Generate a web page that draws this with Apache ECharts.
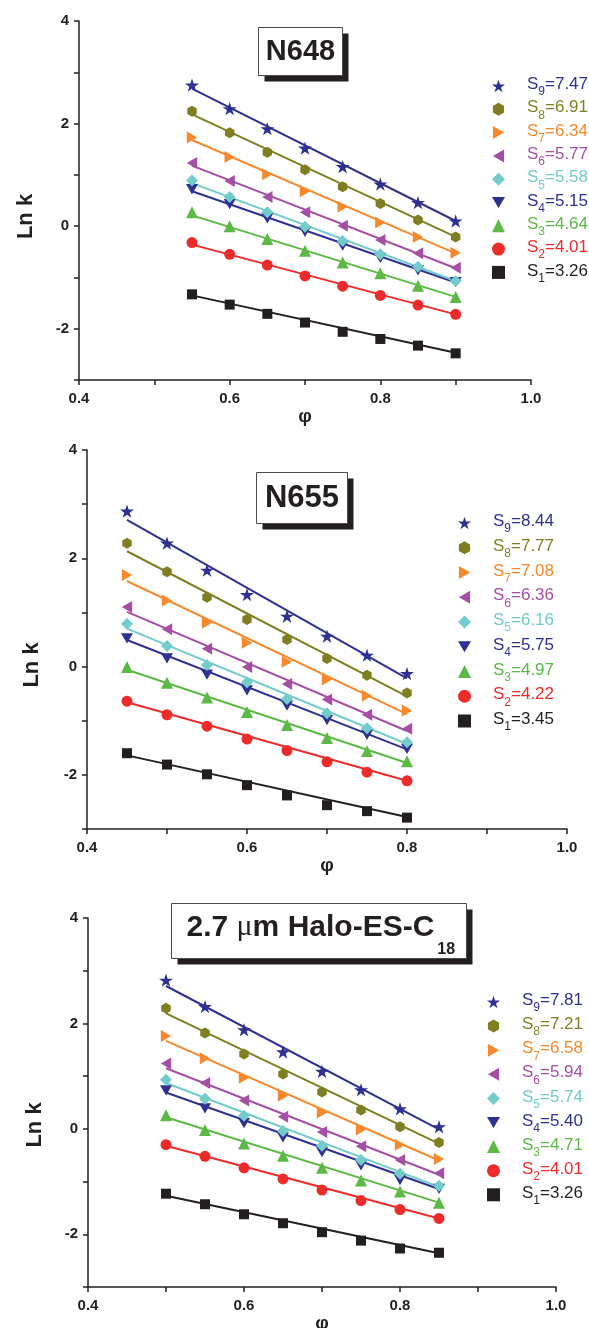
<!DOCTYPE html>
<html><head><meta charset="utf-8">
<script src="https://cdn.jsdelivr.net/npm/echarts@6/dist/echarts.min.js"></script>
<style>html,body{margin:0;padding:0;background:#fff}#c{width:589px;height:1328px}</style>
</head><body><div id="c"></div>
<script>
// ---------------- DATA ----------------
const seriesKeys = ['S1','S2','S3','S4','S5','S6','S7','S8','S9'];
const subscripts = ['1','2','3','4','5','6','7','8','9'];

// Panel 1 : N648
const titleN648 = 'N648';
const phiN648 = [0.55,0.60,0.65,0.70,0.75,0.80,0.85,0.90];
const sValuesN648 = ['3.26','4.01','4.64','5.15','5.58','5.77','6.34','6.91','7.47'];
const lnkN648 = [
  [-1.33,-1.53,-1.71,-1.88,-2.06,-2.20,-2.33,-2.48],
  [-0.32,-0.55,-0.76,-0.97,-1.17,-1.35,-1.54,-1.72],
  [ 0.27, 0.00,-0.25,-0.48,-0.71,-0.92,-1.16,-1.38],
  [ 0.72, 0.43, 0.15,-0.11,-0.38,-0.62,-0.86,-1.09],
  [ 0.89, 0.57, 0.27,-0.01,-0.29,-0.55,-0.79,-1.07],
  [ 1.23, 0.88, 0.57, 0.27, 0.01,-0.27,-0.53,-0.81],
  [ 1.73, 1.35, 1.01, 0.68, 0.38, 0.07,-0.21,-0.52],
  [ 2.24, 1.82, 1.44, 1.10, 0.77, 0.44, 0.12,-0.21],
  [ 2.75, 2.29, 1.90, 1.52, 1.16, 0.82, 0.46, 0.10]
];
const fitN648 = [[-1.35,-2.47],[-0.36,-1.72],[0.21,-1.38],[0.68,-1.10],[0.84,-1.07],[1.18,-0.82],[1.68,-0.53],[2.18,-0.21],[2.68,0.10]];

// Panel 2 : N655
const titleN655 = 'N655';
const phiN655 = [0.45,0.50,0.55,0.60,0.65,0.70,0.75,0.80];
const sValuesN655 = ['3.45','4.22','4.97','5.75','6.16','6.36','7.08','7.77','8.44'];
const lnkN655 = [
  [-1.60,-1.81,-1.99,-2.19,-2.38,-2.56,-2.67,-2.79],
  [-0.64,-0.89,-1.10,-1.34,-1.55,-1.76,-1.95,-2.11],
  [-0.01,-0.30,-0.57,-0.84,-1.08,-1.32,-1.56,-1.75],
  [ 0.52, 0.15,-0.15,-0.44,-0.72,-0.99,-1.26,-1.52],
  [ 0.79, 0.38, 0.03,-0.29,-0.60,-0.86,-1.14,-1.40],
  [ 1.10, 0.69, 0.33,-0.01,-0.32,-0.61,-0.89,-1.15],
  [ 1.69, 1.22, 0.81, 0.44, 0.09,-0.24,-0.54,-0.81],
  [ 2.28, 1.75, 1.28, 0.87, 0.50, 0.15,-0.16,-0.49],
  [ 2.87, 2.28, 1.78, 1.33, 0.93, 0.56, 0.21,-0.13]
];
const fitN655 = [[-1.64,-2.78],[-0.66,-2.11],[-0.06,-1.78],[0.49,-1.53],[0.70,-1.43],[1.01,-1.19],[1.58,-0.88],[2.13,-0.55],[2.71,-0.22]];

// Panel 3 : 2.7 µm Halo-ES-C18
const phiHalo = [0.50,0.55,0.60,0.65,0.70,0.75,0.80,0.85];
const sValuesHalo = ['3.26','4.01','4.71','5.40','5.74','5.94','6.58','7.21','7.81'];
const lnkHalo = [
  [-1.23,-1.43,-1.62,-1.79,-1.96,-2.12,-2.27,-2.35],
  [-0.30,-0.52,-0.74,-0.95,-1.16,-1.36,-1.53,-1.70],
  [ 0.26,-0.02,-0.28,-0.51,-0.74,-0.98,-1.19,-1.40],
  [ 0.73, 0.39, 0.11,-0.16,-0.44,-0.69,-0.97,-1.14],
  [ 0.93, 0.57, 0.25,-0.04,-0.32,-0.59,-0.85,-1.08],
  [ 1.24, 0.87, 0.54, 0.23,-0.06,-0.33,-0.59,-0.84],
  [ 1.76, 1.34, 0.97, 0.63, 0.31,-0.01,-0.30,-0.57],
  [ 2.29, 1.82, 1.42, 1.04, 0.70, 0.36, 0.04,-0.26],
  [ 2.82, 2.32, 1.88, 1.46, 1.09, 0.74, 0.38, 0.04]
];
const fitHalo = [[-1.27,-2.36],[-0.32,-1.70],[0.22,-1.40],[0.69,-1.14],[0.87,-1.10],[1.15,-0.87],[1.67,-0.60],[2.19,-0.28],[2.71,-0.01]];

// axis ranges / ticks
const xMin = 0.4, xMax = 1.0, xStep = 0.1;
const yMin = -3, yMax = 4, yStep = 1;

// ---------------- STYLE ----------------
const FONT = 'Arial, "Liberation Sans", Helvetica, sans-serif';
const INK = '#231F20';
const colors = ['#231F20','#EE2B2B','#5CB946','#2E3192','#73CBCB','#A54FA4','#F7892C','#7F7F22','#2E3192'];
const starPath = 'path://M50 0 L61.23 34.55 L97.55 34.55 L68.17 55.9 L79.39 90.45 L50 69.1 L20.61 90.45 L31.83 55.9 L2.45 34.55 L38.77 34.55 Z';
const symbols = ['rect','circle','triangle','path://M0 0 L100 0 L50 86 Z','path://M50 0 L100 50 L50 100 L0 50 Z',
  'path://M100 0 L14 50 L100 100 Z','path://M0 0 L86 50 L0 100 Z','path://M50 0 L93 25 L93 75 L50 100 L7 75 L7 25 Z', starPath];
const symSizes = [10,11,12,12,12,12,12,11,14];

const panels = [
  {id:'N648', phi:phiN648, lnk:lnkN648, fit:fitN648, sv:sValuesN648,
   grid:{left:79, top:21, width:452, height:359},
   legend:{left:492, top:76, itemGap:1.3},
   yNameGap:42, yNamePad:32, xNameGap:18},
  {id:'N655', phi:phiN655, lnk:lnkN655, fit:fitN655, sv:sValuesN655,
   grid:{left:87, top:450, width:480, height:379},
   legend:{left:458, top:513, itemGap:2.75},
   yNameGap:44, yNamePad:51, xNameGap:24},
  {id:'Halo', phi:phiHalo, lnk:lnkHalo, fit:fitHalo, sv:sValuesHalo,
   grid:{left:88, top:918, width:468, height:369},
   legend:{left:487, top:992, itemGap:2.1},
   yNameGap:42, yNamePad:45, xNameGap:20}
];

// rich styles for legend text with subscripts
const legendRich = {};
for (let i = 0; i < 9; i++) {
  legendRich['f'+i] = {color:colors[i], fontSize:17, fontFamily:FONT, lineHeight:20, verticalAlign:'top', padding:[0,0,0,17]};
  legendRich['m'+i] = {color:colors[i], fontSize:17, fontFamily:FONT, lineHeight:20, verticalAlign:'top'};
  legendRich['s'+i] = {color:colors[i], fontSize:12, fontFamily:FONT, lineHeight:12, verticalAlign:'top', padding:[10,0,0,0]};
}

const grids = [], xAxes = [], yAxes = [], legends = [], series = [];
panels.forEach((p, pi) => {
  grids.push(Object.assign({containLabel:false, outerBoundsMode:'none'}, p.grid));
  xAxes.push({
    type:'value', gridIndex:pi, min:xMin, max:xMax, interval:xStep,
    name:'φ', nameLocation:'middle', nameGap:p.xNameGap,
    nameTextStyle:{fontFamily:FONT, fontWeight:'bold', fontSize:19, color:INK},
    axisLine:{show:true, onZero:false, lineStyle:{color:INK, width:1.5}},
    axisTick:{show:true, inside:false, length:5, lineStyle:{color:INK, width:1.5}},
    splitLine:{show:false},
    axisLabel:{margin:11, fontFamily:FONT, fontWeight:'bold', fontSize:15, color:INK,
      formatter: v => (Math.round(v*10) % 2 === 0 ? v.toFixed(1) : '')}
  });
  yAxes.push({
    type:'value', gridIndex:pi, min:yMin, max:yMax, interval:yStep,
    name:'Ln k', nameLocation:'middle', nameGap:p.yNameGap, nameRotate:90,
    nameTextStyle:{fontFamily:FONT, fontWeight:'bold', fontSize:22, color:INK, padding:[0,p.yNamePad,0,0]},
    axisLine:{show:true, onZero:false, lineStyle:{color:INK, width:1.5}},
    axisTick:{show:true, inside:false, length:5, lineStyle:{color:INK, width:1.5}},
    splitLine:{show:false},
    axisLabel:{margin:10, fontFamily:FONT, fontWeight:'bold', fontSize:15, color:INK,
      formatter: v => (Math.round(v) % 2 === 0 ? String(Math.round(v)) : '')}
  });
  const names = [];
  for (let i = 8; i >= 0; i--) names.push(p.id + '|' + i);
  legends.push({
    orient:'vertical', left:p.legend.left, top:p.legend.top, padding:0, itemGap:p.legend.itemGap,
    itemWidth:13, itemHeight:13, selectedMode:false, data:names,
    formatter: name => {
      const parts = name.split('|');
      const i = +parts[1];
      const pp = panels.find(q => q.id === parts[0]);
      return '{f'+i+'|S}{s'+i+'|'+subscripts[i]+'}{m'+i+'|='+pp.sv[i]+'}';
    },
    textStyle:{rich:legendRich}
  });
  for (let i = 0; i < 9; i++) {
    const x0 = p.phi[0], x1 = p.phi[p.phi.length-1];
    series.push({
      type:'line', name:'fit|'+p.id+'|'+i, xAxisIndex:pi, yAxisIndex:pi,
      data:[[x0, p.fit[i][0]],[x1, p.fit[i][1]]], symbol:'none', showSymbol:false,
      lineStyle:{color:colors[i], width:2}, itemStyle:{color:colors[i]}, silent:true, z:2
    });
    series.push({
      type:'scatter', name:p.id+'|'+i, xAxisIndex:pi, yAxisIndex:pi,
      data:p.phi.map((x, k) => [x, p.lnk[i][k]]),
      symbol:symbols[i], symbolSize:symSizes[i], symbolKeepAspect:true,
      itemStyle:{color:colors[i], opacity:1}, z:3, silent:true
    });
  }
});

function titleBox(x, y, w, h, children) {
  return {type:'group', left:x, top:y, children:[
    {type:'rect', shape:{x:6, y:6, width:w, height:h}, style:{fill:INK}},
    {type:'rect', shape:{x:0, y:0, width:w, height:h}, style:{fill:'#fff', stroke:'#4a4a4a', lineWidth:1}},
  ].concat(children)};
}

const graphics = [
  titleBox(258, 27, 84, 48, [{type:'text', x:42, y:24, style:{text:titleN648, font:'bold 29px '+FONT, fill:INK,
    align:'center', verticalAlign:'middle', textAlign:'center', textVerticalAlign:'middle'}}]),
  titleBox(256, 472, 91, 51, [{type:'text', x:45.5, y:25.5, style:{text:titleN655, font:'bold 31px '+FONT, fill:INK,
    align:'center', verticalAlign:'middle', textAlign:'center', textVerticalAlign:'middle'}}]),
  titleBox(171, 903, 295, 55, [{type:'text', x:15, y:9, style:{
    text:'{a|2.7 }{mu|μ}{a|m Halo-ES-C}{sub|18}',
    align:'left', verticalAlign:'top', textAlign:'left', textVerticalAlign:'top',
    rich:{
      a:{fill:INK, color:INK, fontSize:30, fontWeight:'bold', fontFamily:FONT, lineHeight:32, verticalAlign:'top'},
      mu:{fill:INK, color:INK, fontSize:30, fontWeight:'normal', fontFamily:'"Liberation Serif", "Times New Roman", serif', lineHeight:32, verticalAlign:'top'},
      sub:{fill:INK, color:INK, fontSize:16, fontWeight:'bold', fontFamily:FONT, lineHeight:16, verticalAlign:'top', padding:[29,0,0,3]}
    }}}])
];

const chart = echarts.init(document.getElementById('c'), null, {renderer:'canvas'});
chart.setOption({
  animation:false,
  backgroundColor:'#fff',
  grid:grids, xAxis:xAxes, yAxis:yAxes, legend:legends, series:series, graphic:graphics
});
</script></body></html>
